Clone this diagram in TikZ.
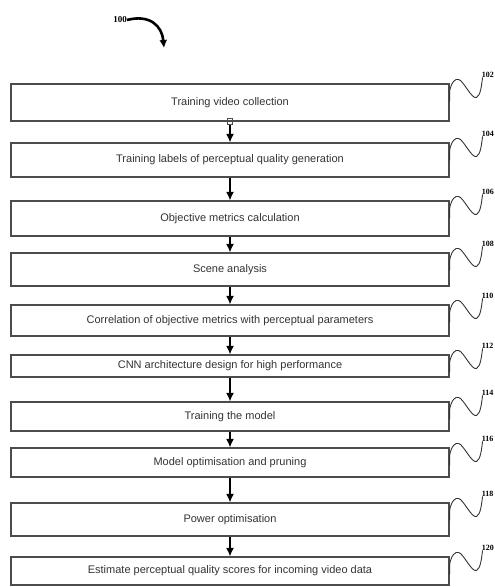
\documentclass[tikz,border=0pt]{standalone}
\usepackage{fontspec}
\setmainfont{Liberation Sans}
\newfontfamily\numfont{Liberation Serif}
\usetikzlibrary{arrows.meta,calc}
\begin{document}
\begin{tikzpicture}[x=1pt,y=-1pt,
  box/.style={draw=black!70, line width=1.1pt, minimum width=438pt, inner sep=0pt,
    font=\fontsize{11}{13}\selectfont, text=black!80},
  flow/.style={line width=2pt, -{Latex[length=8.5pt,width=8pt]}},
  refnum/.style={font=\numfont\bfseries\fontsize{8}{9}\selectfont, inner sep=0pt},
  squig/.style={line width=0.9pt, black!80}]
\useasboundingbox (0,0) rectangle (495,587);

\node[refnum, font=\numfont\bfseries\fontsize{9}{10}\selectfont] (n100) at (120,20) {100};
\coordinate (a100) at (164,48);
\draw[line width=2.6pt, -{Latex[length=8pt,width=8pt]}] (n100.east) .. controls (150,14) and (162,26) .. (a100);

\node[box, minimum height=37pt] (b1) at (230,102.5) {Training video collection};
\node[box, minimum height=34pt] (b2) at (230,160) {Training labels of perceptual quality generation};
\node[box, minimum height=35pt] (b3) at (230,218.5) {Objective metrics calculation};
\node[box, minimum height=33pt] (b4) at (230,269.5) {Scene analysis};
\node[box, minimum height=31pt] (b5) at (230,320.5) {Correlation of objective metrics with perceptual parameters};
\node[box, minimum height=22pt] (b6) at (230,366) {CNN architecture design for high performance};
\node[box, minimum height=29pt] (b7) at (230,416.5) {Training the model};
\node[box, minimum height=29pt] (b8) at (230,462.5) {Model optimisation and pruning};
\node[box, minimum height=33pt] (b9) at (230,519.5) {Power optimisation};
\node[box, minimum height=28pt] (b10) at (230,571) {Estimate perceptual quality scores for incoming video data};

\node[draw=black!70, line width=0.8pt, minimum width=5pt, minimum height=6pt, inner sep=0pt] (sq) at (b1.south) {};
\draw[flow] (sq.south) -- (b2.north);
\foreach \a/\b in {b2/b3,b3/b4,b4/b5,b5/b6,b6/b7,b7/b8,b8/b9,b9/b10}{
  \draw[flow] (\a.south) -- (\b.north);
}

\foreach \b/\n in {b1/102,b2/104,b3/106,b4/108,b5/110,b6/112,b7/114,b8/116,b9/118,b10/120}{
  \begin{scope}[shift={(\b.north east)}]
    \draw[squig] (0,18) -- (0,8) .. controls (2,-2) and (6,-5) .. (9,-4)
      .. controls (14,-3) and (22,16) .. (27,14) .. controls (31,12) and (32,2) .. (33,-6);
    \node[refnum, anchor=south west] (r\n) at (32,-6) {\n};
  \end{scope}
}
\end{tikzpicture}
\end{document}
